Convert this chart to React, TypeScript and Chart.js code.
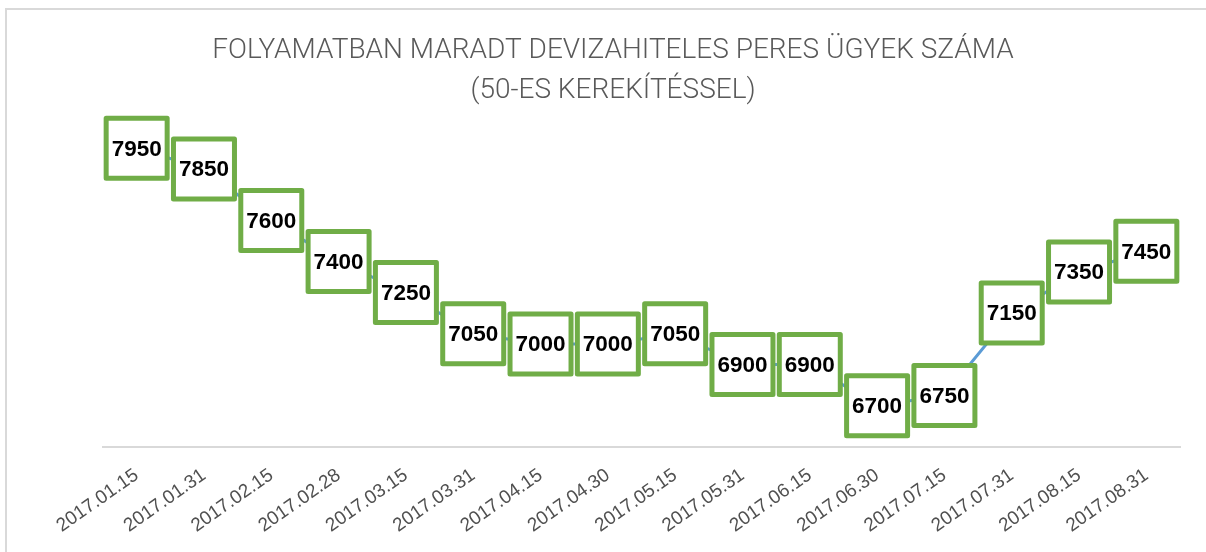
import React, { useEffect, useRef } from "react";
import { Chart, registerables } from "chart.js";

Chart.register(...registerables);

const categories = [
  "2017.01.15", "2017.01.31", "2017.02.15", "2017.02.28",
  "2017.03.15", "2017.03.31", "2017.04.15", "2017.04.30",
  "2017.05.15", "2017.05.31", "2017.06.15", "2017.06.30",
  "2017.07.15", "2017.07.31", "2017.08.15", "2017.08.31",
];
const caseCounts = [
  7950, 7850, 7600, 7400, 7250, 7050, 7000, 7000,
  7050, 6900, 6900, 6700, 6750, 7150, 7350, 7450,
];
const titleLines = [
  "FOLYAMATBAN MARADT DEVIZAHITELES PERES ÜGYEK SZÁMA",
  "(50-ES KEREKÍTÉSSEL)",
];
const yMin = 6500;
const yMax = 8000;

const titlePlugin = {
  id: "customTitle",
  afterDraw(chart: any) {
    const ctx = chart.ctx;
    ctx.save();
    ctx.fillStyle = "#595959";
    ctx.font = "300 28px Roboto, 'Liberation Sans', sans-serif";
    ctx.textAlign = "center";
    ctx.textBaseline = "middle";
    ctx.fillText(titleLines[0], 613, 51);
    ctx.fillText(titleLines[1], 613, 91);
    ctx.restore();
  },
};

const labelBoxPlugin = {
  id: "labelBoxes",
  afterDatasetsDraw(chart: any) {
    const ctx = chart.ctx;
    const meta = chart.getDatasetMeta(0);
    const values = chart.data.datasets[0].data as number[];
    ctx.save();
    meta.data.forEach((pt: any, i: number) => {
      const w = 61;
      const h = 60;
      const x = pt.x - w / 2;
      const y = pt.y - h / 2;
      ctx.beginPath();
      ctx.fillStyle = "#ffffff";
      ctx.strokeStyle = "#70AD47";
      ctx.lineWidth = 5;
      ctx.lineJoin = "round";
      ctx.rect(x, y, w, h);
      ctx.fill();
      ctx.stroke();
      ctx.fillStyle = "#000000";
      ctx.font = "bold 22.5px 'Liberation Sans', Arial, sans-serif";
      ctx.textAlign = "center";
      ctx.textBaseline = "middle";
      ctx.fillText(String(values[i]), pt.x, pt.y + 1);
    });
    ctx.restore();
  },
};

export default function App() {
  const canvasRef = useRef<HTMLCanvasElement | null>(null);

  useEffect(() => {
    if (!canvasRef.current) return;
    const chart = new Chart(canvasRef.current, {
      type: "line",
      data: {
        labels: categories,
        datasets: [
          {
            data: caseCounts,
            borderColor: "#5B9BD5",
            borderWidth: 3,
            pointRadius: 0,
            tension: 0,
            fill: false,
          },
        ],
      },
      options: {
        animation: false,
        responsive: false,
        maintainAspectRatio: false,
        layout: { padding: { left: 103, right: 26, top: 138, bottom: 0 } },
        plugins: {
          legend: { display: false },
          tooltip: { enabled: false },
          title: { display: false },
        },
        scales: {
          x: {
            offset: true,
            grid: { display: false, drawTicks: false },
            border: { display: true, color: "#d9d9d9", width: 2 },
            ticks: {
              autoSkip: false,
              minRotation: 35,
              maxRotation: 35,
              color: "#505050",
              padding: 17,
              font: { family: "'Liberation Sans', Arial, sans-serif", size: 19 },
            },
            afterFit(scale: any) {
              scale.height = 105;
            },
          },
          y: {
            display: false,
            min: yMin,
            max: yMax,
          },
        },
      },
      plugins: [labelBoxPlugin, titlePlugin],
    });
    return () => chart.destroy();
  }, []);

  return (
    <div style={{ position: "fixed", left: 0, top: 0, width: 1206, height: 552, overflow: "hidden", background: "#ffffff" }}>
      <div
        style={{
          position: "absolute",
          left: 5,
          top: 8,
          width: 1220,
          height: 600,
          borderTop: "2px solid #d9d9d9",
          borderLeft: "2px solid #d9d9d9",
          boxSizing: "border-box",
        }}
      />
      <canvas ref={canvasRef} width={1206} height={552} style={{ position: "absolute", left: 0, top: 0 }} />
    </div>
  );
}
